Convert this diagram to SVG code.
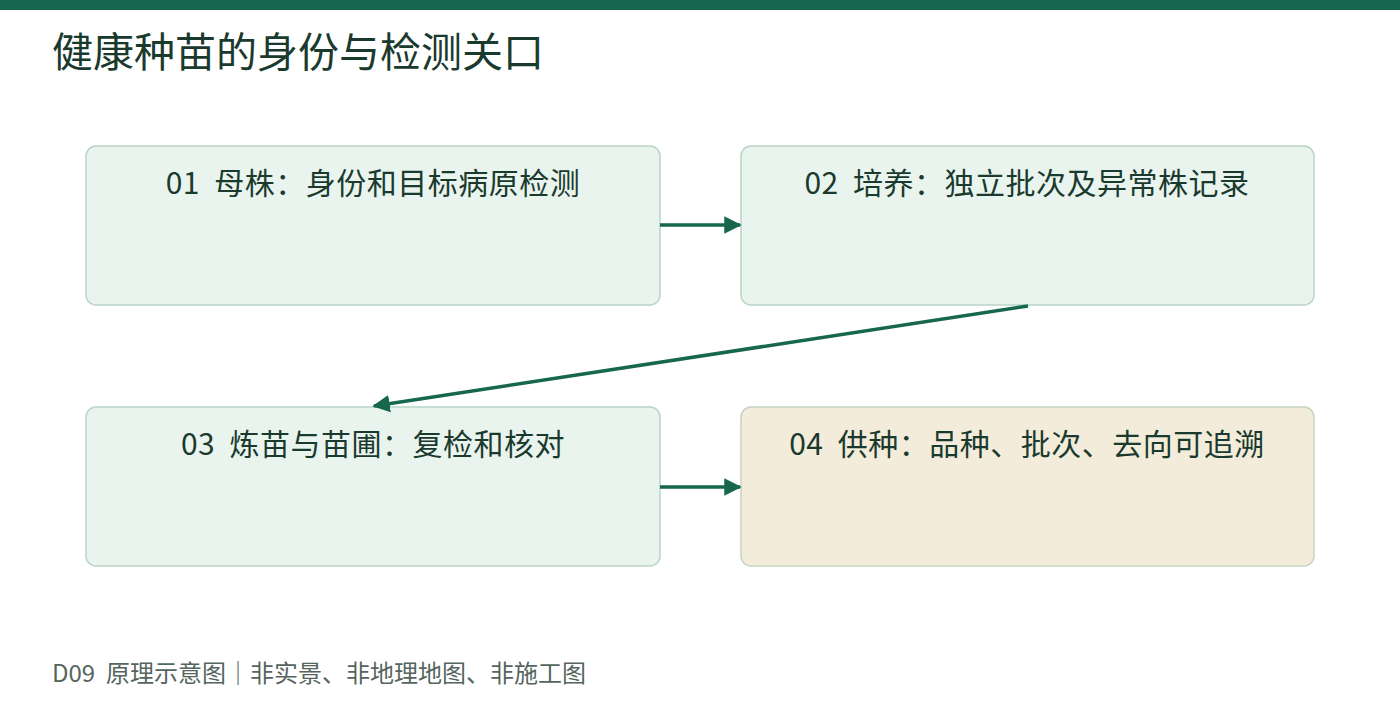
<svg xmlns="http://www.w3.org/2000/svg" width="1400" height="720" viewBox="0 0 1400 720" xml:space="preserve">
<style>
text{font-family:"Noto Sans CJK SC","Noto Sans",sans-serif;white-space:pre}
.box{fill:#eaf4ee;stroke:#b8d5c6;stroke-width:1.5}
.lbl{font-size:30px;fill:#1a3a2e;text-anchor:middle;letter-spacing:0.5px}
.c{stroke:#17674f;stroke-width:3.5;fill:none;marker-end:url(#a)}
</style>
<defs><marker id="a" viewBox="0 0 10 10" refX="9" refY="5" markerWidth="5" markerHeight="5" orient="auto" markerUnits="strokeWidth"><path d="M0,0L10,5L0,10z" fill="#17674f"/></marker></defs>
<rect width="1400" height="720" fill="#fff"/>
<rect width="1400" height="10" fill="#17674f"/>
<text x="52" y="67" font-size="41" fill="#1a3a2e">健康种苗的身份与检测关口</text>
<g id="n1"><rect class="box" x="86" y="146" width="574" height="159" rx="10"/><text class="lbl" x="373" y="194">01  母株：身份和目标病原检测</text></g>
<g id="n2"><rect class="box" x="741" y="146" width="573" height="159" rx="10"/><text class="lbl" x="1027" y="194">02  培养：独立批次及异常株记录</text></g>
<g id="n3"><rect class="box" x="86" y="407" width="574" height="159" rx="10"/><text class="lbl" x="373" y="455">03  炼苗与苗圃：复检和核对</text></g>
<g id="n4"><rect x="741" y="407" width="573" height="159" rx="10" fill="#f3ecda" stroke="#c5d3bf" stroke-width="1.5"/><text class="lbl" x="1027" y="455">04  供种：品种、批次、去向可追溯</text></g>
<g id="connectors">
<line class="c" x1="660" y1="225" x2="740" y2="225"/>
<line class="c" x1="1028" y1="306" x2="374" y2="406"/>
<line class="c" x1="660" y1="487" x2="740" y2="487"/>
</g>
<text x="52" y="682" font-size="24" fill="#55655e">D09  原理示意图｜非实景、非地理地图、非施工图</text>
</svg>
